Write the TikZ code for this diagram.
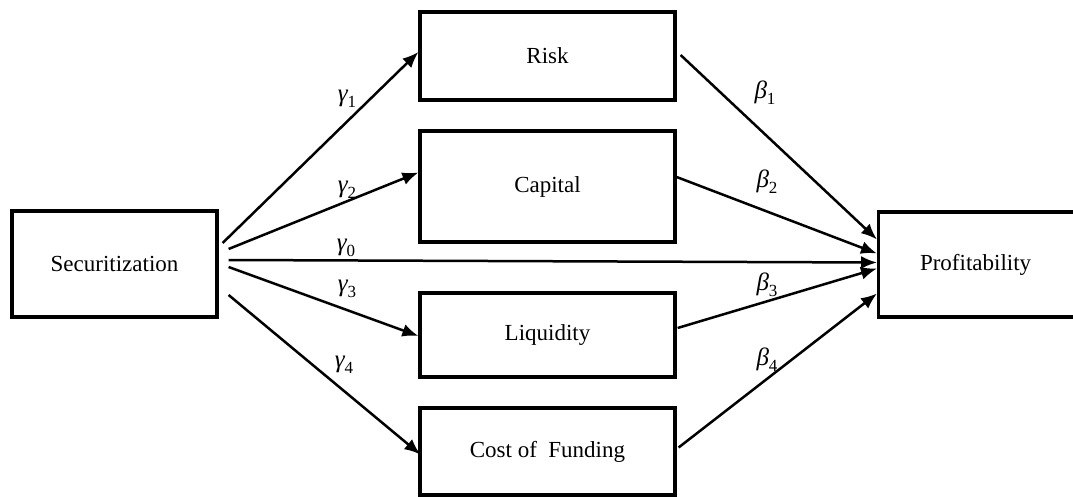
\documentclass[tikz,border=0pt]{standalone}
\usepackage{fontspec}
\setmainfont{Liberation Serif}
\usetikzlibrary{arrows.meta}
\newcommand{\glab}[2]{{\itshape #1}\raisebox{-0.25em}{\fontsize{17}{20}\selectfont #2}}
\begin{document}
\begin{tikzpicture}[x=1pt,y=-1pt,
  box/.style={draw,line width=3.2pt,inner sep=0pt,font=\fontsize{23}{28}\selectfont},
  arr/.style={line width=2.5pt,-{Latex[length=16pt,width=13pt]}},
  lbl/.style={inner sep=0pt,font=\fontsize{25}{30}\selectfont}]
\useasboundingbox (0,0) rectangle (1073,497);
\node[box,minimum width=205pt,minimum height=106pt] (sec) at (114.5,264) {Securitization};
\node[box,minimum width=255pt,minimum height=88pt] (risk) at (547.5,56) {Risk};
\node[box,minimum width=255pt,minimum height=111pt] (cap) at (547.5,186.5) {Capital};
\node[box,minimum width=255pt,minimum height=84pt] (liq) at (547.5,335) {Liquidity};
\node[box,minimum width=255pt,minimum height=87pt] (cof) at (547.5,451.5) {Cost of\enspace Funding};
\node[box,minimum width=200pt,minimum height=105pt,anchor=west] (prof) at (877,264.5) {\hspace*{-6pt}Profitability};
% gamma arrows
\draw[arr] ([shift={(4,-21)}]sec.east) -- ([shift={(0,-4)}]risk.west);
\draw[arr] ([shift={(10,-15)}]sec.east) -- ([shift={(0,-14)}]cap.west);
\draw[arr] ([shift={(10,-4)}]sec.east) -- ([shift={(0,-2)}]prof.west);
\draw[arr] ([shift={(10,3)}]sec.east) -- ([shift={(0,1)}]liq.west);
\draw[arr] ([shift={(10,31)}]sec.east) -- ([shift={(2,3)}]cof.west);
% beta arrows
\draw[arr] ([shift={(4,-1)}]risk.east) -- ([shift={(0,-25)}]prof.west);
\draw[arr] ([shift={(0,-9.5)}]cap.east) -- ([shift={(0,-11)}]prof.west);
\draw[arr] ([shift={(1,-7)}]liq.east) -- ([shift={(0,4)}]prof.west);
\draw[arr] ([shift={(2,-4)}]cof.east) -- ([shift={(0,29)}]prof.west);
% labels
\node[lbl] (g1) at (347,99) {\glab{γ}{1}};
\node[lbl] (g2) at (347,190) {\glab{γ}{2}};
\node[lbl] (g0) at (346,248) {\glab{γ}{0}};
\node[lbl] (g3) at (347,289) {\glab{γ}{3}};
\node[lbl] (g4) at (344,365) {\glab{γ}{4}};
\node[lbl] (b1) at (765,93) {\glab{β}{1}};
\node[lbl] (b2) at (767,182) {\glab{β}{2}};
\node[lbl] (b3) at (767,285) {\glab{β}{3}};
\node[lbl] (b4) at (767,360) {\glab{β}{4}};
\end{tikzpicture}
\end{document}
